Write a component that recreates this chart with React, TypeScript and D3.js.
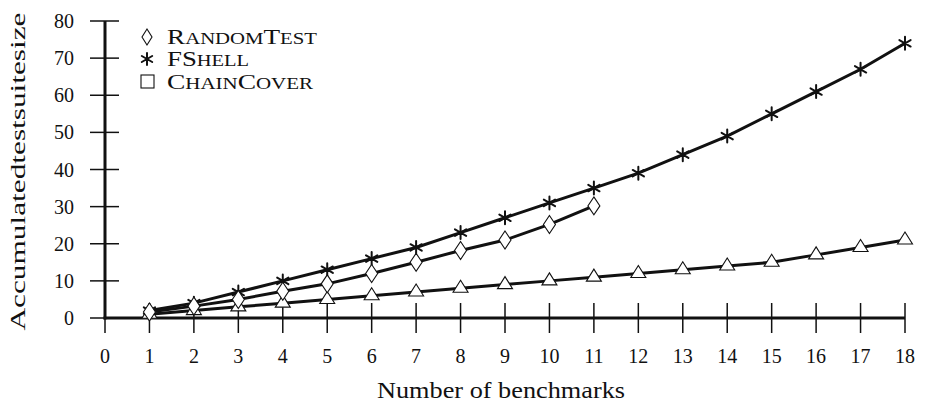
import React from 'react';
import * as d3 from 'd3';

const benchmarks = d3.range(0, 19);
const yTicks = [0, 10, 20, 30, 40, 50, 60, 70, 80];

const randomTestX = [1, 2, 3, 4, 5, 6, 7, 8, 9, 10, 11];
const randomTest = [1.6, 3.2, 5, 7.2, 9.2, 12, 15, 18.2, 21, 25.2, 30.2];

const fshellX = [1, 2, 3, 4, 5, 6, 7, 8, 9, 10, 11, 12, 13, 14, 15, 16, 17, 18];
const fshell = [2, 4, 7, 10, 13, 16, 19, 23, 27, 31, 35, 39, 44, 49, 55, 61, 67, 74];

const chainCoverX = [1, 2, 3, 4, 5, 6, 7, 8, 9, 10, 11, 12, 13, 14, 15, 16, 17, 18];
const chainCover = [1, 2, 3, 4, 5, 6, 7, 8, 9, 10, 11, 12, 13, 14, 15, 17, 19, 21];

const FONT = '"Liberation Serif", "DejaVu Serif", serif';

const x = d3.scaleLinear().domain([0, 18]).range([105, 905]);
const y = d3.scaleLinear().domain([0, 80]).range([318, 21]);

const line = d3.line<[number, number]>()
  .x(d => x(d[0]))
  .y(d => y(d[1]));

const zip = (xs: number[], ys: number[]): [number, number][] => xs.map((v, i) => [v, ys[i]]);

function Diamond({ cx, cy, w = 6, h = 9 }: { cx: number; cy: number; w?: number; h?: number }) {
  return <path d={`M${cx},${cy - h}L${cx + w},${cy}L${cx},${cy + h}L${cx - w},${cy}Z`} fill="#fff" stroke="#111" strokeWidth={1.1} />;
}

function Triangle({ cx, cy }: { cx: number; cy: number }) {
  return <path d={`M${cx},${cy - 8}L${cx + 7.5},${cy + 4}L${cx - 7.5},${cy + 4}Z`} fill="#fff" stroke="#111" strokeWidth={1.1} />;
}

function Star({ cx, cy, r = 6.5 }: { cx: number; cy: number; r?: number }) {
  const arms = [90, 30, 150].map(a => {
    const t = (a * Math.PI) / 180;
    const dx = r * Math.cos(t);
    const dy = r * Math.sin(t);
    return `M${cx - dx},${cy - dy}L${cx + dx},${cy + dy}`;
  });
  return <path d={arms.join('')} stroke="#111" strokeWidth={2} strokeLinecap="round" />;
}

function SmallCaps({ x0, yb, parts, len }: { x0: number; yb: number; parts: [string, boolean][]; len: number }) {
  return (
    <text x={x0} y={yb} fontFamily={FONT} fill="#111" textLength={len} lengthAdjust="spacingAndGlyphs">
      {parts.map(([s, big], i) => (
        <tspan key={i} fontSize={big ? 21 : 16}>{s}</tspan>
      ))}
    </text>
  );
}

export default function App() {
  return (
    <svg width={930} height={406} style={{ position: 'absolute', left: 0, top: 0, background: '#fff' }}>
      {/* y axis title */}
      <text
        transform={`translate(25, ${(y(0) + y(80)) / 2 + 2}) rotate(-90)`}
        textAnchor="middle"
        fontFamily={FONT}
        fontSize={21}
        fill="#111"
        textLength={318}
        lengthAdjust="spacingAndGlyphs"
      >
        Accumulatedtestsuitesize
      </text>

      {/* y ticks */}
      {yTicks.map(t => (
        <g key={t}>
          <line x1={90} x2={119} y1={y(t)} y2={y(t)} stroke="#111" strokeWidth={1.5} />
          <text x={74} y={y(t) + 7} textAnchor="end" fontFamily={FONT} fontSize={20} fill="#111">{t}</text>
        </g>
      ))}

      {/* x ticks */}
      {benchmarks.map(b => (
        <g key={b}>
          <line x1={x(b)} x2={x(b)} y1={303} y2={333} stroke="#111" strokeWidth={1.5} />
          <text x={x(b)} y={363} textAnchor="middle" fontFamily={FONT} fontSize={20} fill="#111">{b}</text>
        </g>
      ))}

      {/* axes */}
      <line x1={x(0)} x2={x(0)} y1={y(80)} y2={y(0) + 1.5} stroke="#111" strokeWidth={3} />
      <line x1={x(0) - 1.5} x2={x(18)} y1={y(0)} y2={y(0)} stroke="#111" strokeWidth={3} />

      <text x={501} y={398} textAnchor="middle" fontFamily={FONT} fontSize={23} fill="#111" textLength={248} lengthAdjust="spacingAndGlyphs">
        Number of benchmarks
      </text>

      {/* lines */}
      <path d={line(zip(chainCoverX, chainCover)) || ''} fill="none" stroke="#111" strokeWidth={3} />
      <path d={line(zip(fshellX, fshell)) || ''} fill="none" stroke="#111" strokeWidth={3} />
      <path d={line(zip(randomTestX, randomTest)) || ''} fill="none" stroke="#111" strokeWidth={3} />

      {/* markers */}
      {chainCoverX.map((v, i) => <Triangle key={'c' + i} cx={x(v)} cy={y(chainCover[i])} />)}
      {fshellX.map((v, i) => <Star key={'f' + i} cx={x(v)} cy={y(fshell[i])} />)}
      {randomTestX.map((v, i) => <Diamond key={'r' + i} cx={x(v)} cy={y(randomTest[i])} />)}

      {/* legend */}
      <Diamond cx={147} cy={37} w={5} h={8} />
      <SmallCaps x0={167} yb={44} len={150} parts={[['R', true], ['ANDOM', false], ['T', true], ['EST', false]]} />
      <Star cx={147} cy={59} r={6} />
      <SmallCaps x0={167} yb={66} len={82} parts={[['FS', true], ['HELL', false]]} />
      <rect x={141} y={75} width={13} height={13} fill="#fff" stroke="#111" strokeWidth={1.1} />
      <SmallCaps x0={167} yb={89} len={146} parts={[['C', true], ['HAIN', false], ['C', true], ['OVER', false]]} />
    </svg>
  );
}
